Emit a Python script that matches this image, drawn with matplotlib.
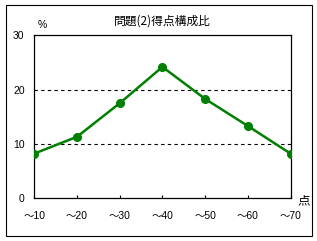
import matplotlib
matplotlib.use("Agg")
from matplotlib import pyplot as plt
from matplotlib.patches import Rectangle

plt.rcParams['font.family'] = ['Liberation Sans', 'Noto Sans CJK JP', 'DejaVu Sans']

categories = ["～10", "～20", "～30", "～40", "～50", "～60", "～70"]
values = [8.2, 11.3, 17.5, 24.2, 18.3, 13.3, 8.2]
yticks = [0, 10, 20, 30]

fig = plt.figure(figsize=(3.17, 2.41), dpi=100)
ax = fig.add_axes([34.3 / 317, 1 - 198 / 241, 256.2 / 317, 162.5 / 241])

x = range(len(categories))
ax.plot(x, values, color="#008000", lw=1.8, marker="o", ms=5.5, zorder=3)

ax.set_xlim(0, len(categories) - 1)
ax.set_ylim(0, 30)
ax.set_yticks(yticks)
ax.set_xticks(list(x))
ax.set_xticklabels(categories)
for v in (10, 20):
    ax.axhline(v, color="black", lw=0.8, ls=(0, (3, 3)), zorder=1)

ax.tick_params(axis="y", length=0, pad=7, labelsize=7.5)
ax.tick_params(axis="x", direction="in", length=2.5, width=0.8, pad=9.5, labelsize=7.5)
for s in ax.spines.values():
    s.set_linewidth(0.9)

fig.text(162 / 317, 1 - 21 / 241, "問題(2)得点構成比", ha="center", va="center", fontsize=8.5,
         family=['Noto Sans CJK JP', 'DejaVu Sans'])
fig.text(42 / 317, 1 - 25 / 241, "%", ha="center", va="center", fontsize=7.5)
fig.text(304 / 317, 1 - 201 / 241, "点", ha="center", va="center", fontsize=9,
         family=['Noto Sans CJK JP', 'DejaVu Sans'])

fig.patches.append(Rectangle((5.5 / 317, 5 / 241), 306 / 317, 231 / 241, transform=fig.transFigure,
                             fill=False, edgecolor="black", lw=0.8))

fig.savefig("out.png", dpi=100)
